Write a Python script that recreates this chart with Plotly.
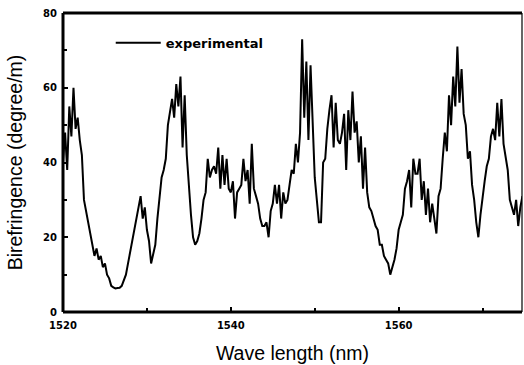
import plotly.graph_objects as go

# Sampling grid (nm) and birefringence values (degree/m)
wl_start = 1520.0
wl_step = 0.25
birefringence = [
    40, 48, 38, 55, 47, 60, 49, 52, 46, 42, 30, 27, 25, 21, 19, 15, 17, 14, 15, 12,
    13, 10, 9, 7, 6.6, 6.3, 6.4, 6.5, 7, 8.5, 10, 13, 16, 19, 21, 24, 27, 31, 25, 28,
    22, 19, 13, 16, 18, 25, 31, 36, 38, 41, 50, 53, 57, 52, 61, 55, 63, 44, 58, 42,
    33, 26, 20, 18, 19, 21, 25, 30, 32, 41, 36, 38, 39, 37, 44, 33, 42, 34, 41, 33,
    32, 35, 25, 32, 33, 34, 41, 35, 38, 29, 45, 33, 31, 29, 25, 23, 23, 24, 20, 27,
    29, 34, 29, 34, 25, 32, 29, 30, 34, 38, 37, 45, 40, 48, 73, 52, 67, 46, 66, 50,
    36, 30, 24, 24, 40, 41, 49, 54, 58, 44, 56, 46, 45, 48, 53, 38, 54, 46, 59, 48,
    51, 40, 47, 33, 44, 32, 28, 27, 25, 23, 22, 18, 18, 15, 14, 13, 10, 12, 14, 17,
    22, 24, 26, 33, 35, 38, 28, 41, 37, 37, 41, 30, 35, 26, 33, 24, 29, 25, 21, 31,
    33, 41, 48, 43, 58, 50, 63, 55, 71, 56, 65, 53, 50, 41, 43, 34, 30, 24, 20, 26,
    31, 35, 39, 41, 47, 49, 46, 56, 47, 57, 45, 42, 38, 30, 28, 26, 30, 23, 28, 31,
]
wavelength = [wl_start + i * wl_step for i in range(len(birefringence))]

x_ticks = [1520, 1540, 1560]
y_ticks = [0, 20, 40, 60, 80]

fig = go.Figure()
fig.add_trace(go.Scatter(
    x=wavelength, y=birefringence, mode="lines", name="experimental",
    line=dict(color="black", width=2),
))

tickfont = dict(family="DejaVu Sans, sans-serif", size=10, color="black", weight="bold")
titlefont = dict(family="Arial, Liberation Sans, sans-serif", size=19.5, color="black")

fig.update_layout(
    width=524, height=365,
    margin=dict(l=63, r=2, t=13, b=53),
    paper_bgcolor="white", plot_bgcolor="white",
    showlegend=True,
    legend=dict(x=0.104, y=0.9, xanchor="left", yanchor="middle",
                itemwidth=45,
                bgcolor="rgba(0,0,0,0)",
                font=dict(family="DejaVu Sans, sans-serif", size=13,
                          color="black", weight="bold")),
    xaxis=dict(range=[1520, 1574.7], tickvals=x_ticks, ticktext=[str(v) for v in x_ticks],
               ticks="inside", ticklen=5, tickwidth=2, tickcolor="black",
               ticklabelstandoff=6,
               minor=dict(dtick=10, tick0=1520, ticks="inside", ticklen=4, tickwidth=2, tickcolor="black"),
               showgrid=False, zeroline=False, showline=False,
               tickfont=tickfont,
               title=dict(text="Wave length (nm)", font=titlefont, standoff=16)),
    yaxis=dict(range=[0, 80], tickvals=y_ticks,
               ticks="inside", ticklen=5, tickwidth=2, tickcolor="black",
               ticklabelstandoff=5,
               minor=dict(dtick=10, tick0=0, ticks="inside", ticklen=4, tickwidth=2, tickcolor="black"),
               showgrid=False, zeroline=False, showline=False,
               tickfont=tickfont,
               title=dict(text="Birefringence (degree/m)", font=titlefont, standoff=15)),
)

# frame: thick left, bottom and top, thin right
fig.add_shape(type="line", xref="paper", yref="paper", x0=0, x1=0, y0=0, y1=1,
              line=dict(color="black", width=3))
fig.add_shape(type="line", xref="paper", yref="paper", x0=0, x1=1, y0=0, y1=0,
              line=dict(color="black", width=3))
fig.add_shape(type="line", xref="paper", yref="paper", x0=0, x1=1, y0=1, y1=1,
              line=dict(color="black", width=3))
fig.add_shape(type="line", xref="paper", yref="paper", x0=1, x1=1, y0=0, y1=1,
              line=dict(color="black", width=1.2))

fig.write_html("out.html")
